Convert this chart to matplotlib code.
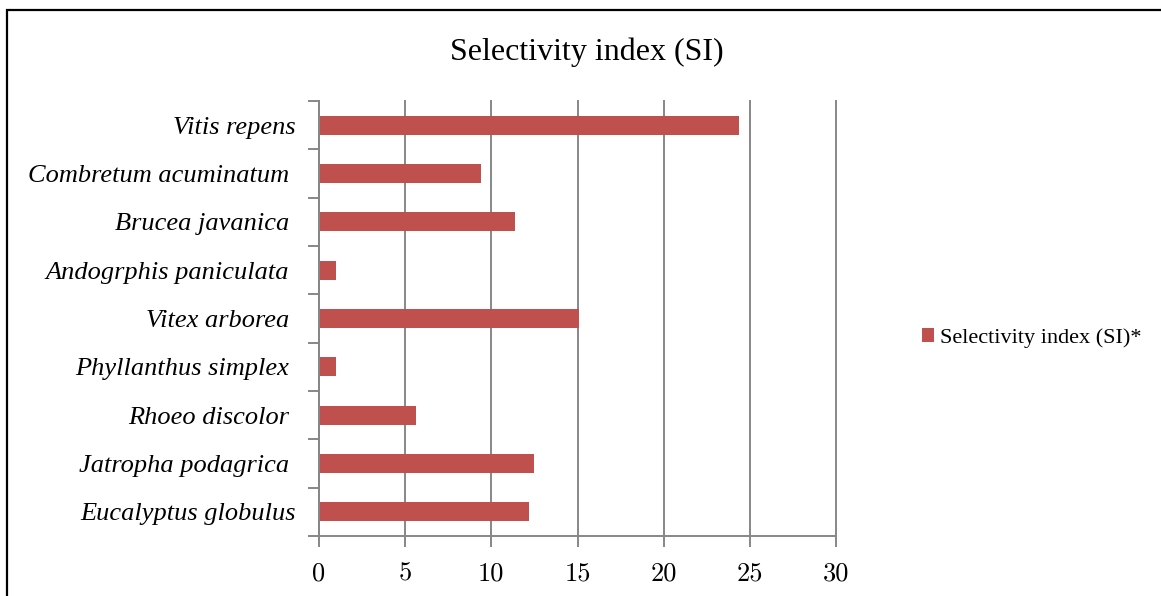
import matplotlib
matplotlib.use("Agg")
import matplotlib.pyplot as plt
from matplotlib.patches import Rectangle

species = ["Eucalyptus globulus", "Jatropha podagrica ", "Rhoeo discolor ",
           "Phyllanthus simplex ", "Vitex arborea ", "Andogrphis paniculata ",
           "Brucea javanica ", "Combretum acuminatum ", "Vitis repens"]
si_values = [12.2, 12.5, 5.6, 1.0, 15.1, 1.0, 11.4, 9.4, 24.4]
x_ticks = [0, 5, 10, 15, 20, 25, 30]
series_label = "Selectivity index (SI)*"
title = "Selectivity index (SI)"

W, H = 1161, 596
fig = plt.figure(figsize=(W / 100, H / 100), dpi=100)
fig.patch.set_facecolor("white")

# outer frame
fig.patches.append(Rectangle((7 / W, -0.1), 1.2, 1.1 - 10.5 / H, transform=fig.transFigure,
                             fill=False, edgecolor="black", linewidth=1.6))

ax = fig.add_axes([319 / W, 1 - 536 / H, (836 - 319) / W, (536 - 101) / H])
pos = list(range(len(species)))
ax.barh(pos, si_values, height=0.39, color="#C0504D", zorder=3,
        label=series_label)
ax.set_xlim(0, 30)
ax.set_ylim(-0.5, len(species) - 0.5)

gray = "#878787"
ax.set_xticks(x_ticks)
ax.set_xticklabels([str(t) for t in x_ticks], fontfamily="cmr10", fontsize=19)
ax.xaxis.grid(True, color=gray, linewidth=1.4, zorder=0)
for gl in ax.get_xgridlines():
    gl.set_clip_on(False)
ax.set_yticks([p - 0.5 for p in pos] + [len(species) - 0.5])
ax.set_yticklabels([])
ax.set_yticks(pos, minor=True)
ax.set_yticklabels(species, minor=True, fontfamily="Liberation Serif",
                   style="italic", fontsize=19)
ax.tick_params(axis="y", which="minor", length=0, pad=17)
ax.tick_params(axis="y", which="major", length=8, width=1.4, color=gray)
ax.tick_params(axis="x", length=8, width=1.4, color=gray, pad=10.5)

for s in ["top", "right"]:
    ax.spines[s].set_visible(False)
for s in ["left", "bottom"]:
    ax.spines[s].set_color(gray)
    ax.spines[s].set_linewidth(1.4)
ax.spines["left"].set_zorder(4)

fig.text(587 / W, 1 - 52 / H, title, ha="center", va="center",
         fontfamily="Liberation Serif", fontsize=23)

ax.legend(loc="center left", bbox_to_anchor=(922 / W, 1 - 338 / H),
          bbox_transform=fig.transFigure, frameon=False,
          prop={"family": "Liberation Serif", "size": 16},
          handlelength=0.55, handleheight=0.55, handletextpad=0.25,
          borderpad=0, borderaxespad=0)

fig.savefig("out.png", dpi=100)
